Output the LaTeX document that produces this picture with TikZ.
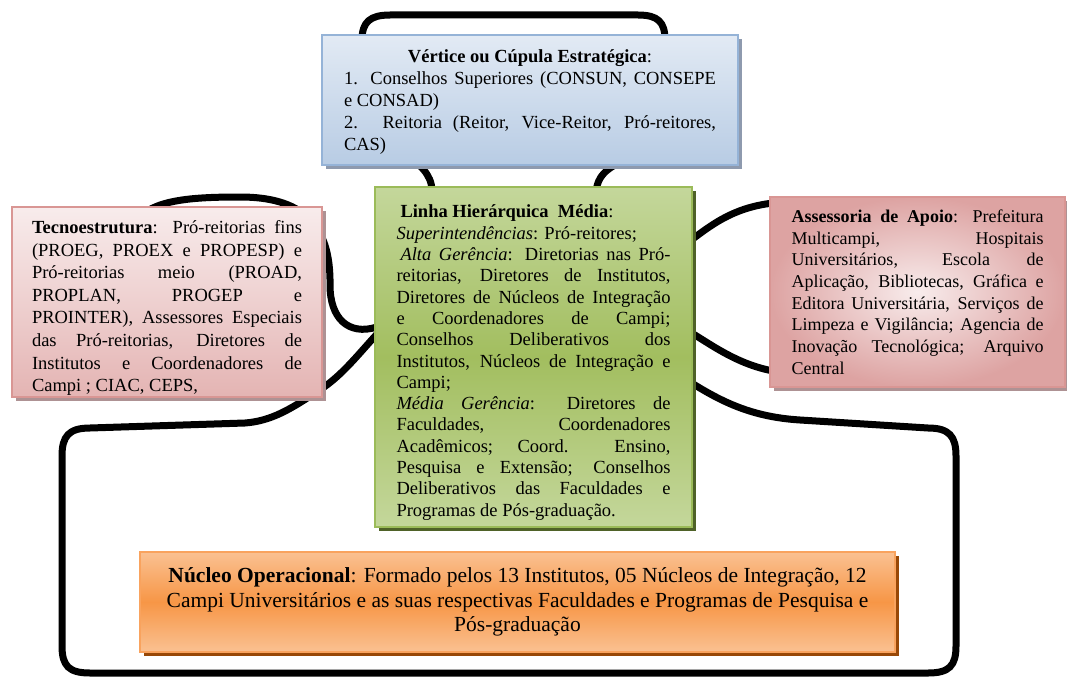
\documentclass[tikz,border=0pt]{standalone}
\usepackage{fontspec}
\setmainfont{Liberation Serif}
\usepackage{tikz}
\usetikzlibrary{calc,shadows,backgrounds}

\definecolor{apexTop}{HTML}{E2EAF4}
\definecolor{apexBot}{HTML}{B8CCE4}
\definecolor{apexLine}{HTML}{95B3D7}
\definecolor{apexShadow}{HTML}{8E9AAE}
\definecolor{pinkTop}{HTML}{F8ECEC}
\definecolor{pinkBot}{HTML}{E4B4B3}
\definecolor{pinkOuter}{HTML}{DDA3A2}
\definecolor{pinkLine}{HTML}{D99694}
\definecolor{pinkShadow}{HTML}{AE9294}
\definecolor{greenLight}{HTML}{C4D79B}
\definecolor{greenMid}{HTML}{A2BE5F}
\definecolor{greenLine}{HTML}{9BBB59}
\definecolor{greenShadow}{HTML}{4F6228}
\definecolor{orangeLight}{HTML}{FAC192}
\definecolor{orangeMid}{HTML}{F79646}
\definecolor{orangeLine}{HTML}{F9A35E}
\definecolor{orangeShadow}{HTML}{984807}

\hyphenpenalty=10000
\exhyphenpenalty=10000
\tolerance=10000
\emergencystretch=10pt

\begin{document}
\begin{tikzpicture}[x=1pt,y=-1pt]
            \useasboundingbox (0,0) rectangle (1067,677);
            \tikzset{BoxStyle/.style={draw,rectangle,line width=2pt,inner ysep=0pt,align=justify,
                font=\fontsize{18.5}{22}\selectfont}};
            \tikzset{LinkStyle/.style={line width=7pt,line join=round}};

            \node[BoxStyle,draw=apexLine,top color=apexTop,bottom color=apexBot,
                drop shadow={fill=apexShadow,opacity=1,shadow xshift=4pt,shadow yshift=-4pt},
                text width=372pt,inner xsep=22pt,minimum height=129pt,
                font=\fontsize{18.5}{22.2}\selectfont] (apex) at (530,100)
                {\rule{0pt}{17pt}\hfill\textbf{Vértice ou Cúpula Estratégica}:\hfill\null\\
                1. Conselhos Superiores (CONSUN, CONSEPE\linebreak e CONSAD)\\
                2. Reitoria (Reitor, Vice-Reitor, Pró-reitores,\linebreak CAS)};

            \node[BoxStyle,draw=pinkLine,top color=pinkTop,bottom color=pinkBot,
                drop shadow={fill=pinkShadow,opacity=1,shadow xshift=4pt,shadow yshift=-4pt},
                text width=270pt,inner xsep=20pt,minimum height=190pt,
                font=\fontsize{18.5}{22.6}\selectfont] (tecno) at (167,302)
                {\rule{0pt}{25pt}\textbf{Tecnoestrutura}: Pró-reitorias fins\linebreak
                (PROEG, PROEX e PROPESP) e\linebreak
                Pró-reitorias meio (PROAD,\linebreak
                PROPLAN, PROGEP e\linebreak
                PROINTER), Assessores Especiais\linebreak
                das Pró-reitorias, Diretores de\linebreak
                Institutos e Coordenadores de\linebreak
                Campi ; CIAC, CEPS,};

            \node[BoxStyle,draw=greenLine,top color=greenLight,bottom color=greenLight,middle color=greenMid,
                drop shadow={fill=greenShadow,opacity=1,shadow xshift=4pt,shadow yshift=-4pt},
                text width=274pt,inner xsep=21.5pt,minimum height=340pt,
                font=\fontsize{18.5}{21.3}\selectfont] (green) at (533.5,357)
                {\rule{0pt}{24pt}\hspace*{4pt}\textbf{Linha Hierárquica\ \ Média}:\\
                \textit{Superintendências}: Pró-reitores;\\
                \hspace*{4pt}\textit{Alta Gerência}: Diretorias nas Pró-\linebreak
                reitorias, Diretores de Institutos,\linebreak
                Diretores de Núcleos de Integração\linebreak
                e Coordenadores de Campi;\linebreak
                Conselhos Deliberativos dos\linebreak
                Institutos, Núcleos de Integração e\linebreak
                Campi;\\
                \textit{Média Gerência}: Diretores de\linebreak
                Faculdades, Coordenadores\linebreak
                Acadêmicos; Coord. Ensino,\linebreak
                Pesquisa e Extensão; Conselhos\linebreak
                Deliberativos das Faculdades e\linebreak
                Programas de Pós-graduação.};

            \node[BoxStyle,draw=pinkLine,inner color=pinkTop,outer color=pinkOuter,
                drop shadow={fill=pinkShadow,opacity=1,shadow xshift=4pt,shadow yshift=-4pt},
                text width=252pt,inner xsep=21.5pt,minimum height=190pt,
                font=\fontsize{18}{21.7}\selectfont] (support) at (917.5,292)
                {\textbf{Assessoria de Apoio}: Prefeitura\linebreak
                Multicampi, Hospitais\linebreak
                Universitários, Escola de\linebreak
                Aplicação, Bibliotecas, Gráfica e\linebreak
                Editora Universitária, Serviços de\linebreak
                Limpeza e Vigilância; Agencia de\linebreak
                Inovação Tecnológica; Arquivo\linebreak
                Central};

            \node[BoxStyle,draw=orangeLine,top color=orangeLight,bottom color=orangeLight,middle color=orangeMid,
                drop shadow={fill=orangeShadow,opacity=1,shadow xshift=4pt,shadow yshift=-4pt},
                text width=715pt,inner xsep=20pt,minimum height=100pt,align=flush center,
                font=\fontsize{21.5}{24.5}\selectfont] (core) at (517.5,602)
                {\textbf{Núcleo Operacional}: Formado pelos 13 Institutos, 05 Núcleos de Integração, 12\\
                Campi Universitários e as suas respectivas Faculdades e Programas de Pesquisa e\\
                Pós-graduação};

            \begin{scope}[on background layer]
            \draw[LinkStyle] ([xshift=58pt,yshift=-6pt]green.north west)
                .. controls (432,172) and (418,166) .. (405,150)
                .. controls (380,120) and (362,80) .. (362,40)
                .. controls (362,22) and (370,15) .. (390,15) -- (638,15)
                .. controls (658,15) and (665,22) .. (665,40)
                .. controls (665,90) and (660,140) .. (635,155)
                .. controls (615,165) and (598,170) .. ([xshift=222pt,yshift=-6pt]green.north west);

            \draw[LinkStyle] ([xshift=3pt,yshift=-141pt]green.north west)
                .. controls (348,336) and (330,318) .. (330,285)
                .. controls (331,222) and (300,197) .. (240,197)
                .. controls (190,197) and (152,200) .. ([xshift=125pt,yshift=-15pt]tecno.north west);

            \draw[LinkStyle] ([xshift=-3pt,yshift=-55pt]green.north east)
                .. controls (715,222) and (740,203) .. ([xshift=20pt,yshift=-6pt]support.north west)
                .. controls (1000,200) and (1000,372) .. ([xshift=20pt,yshift=15pt]support.south west)
                .. controls (745,370) and (715,347) .. ([xshift=-3pt,yshift=-146pt]green.north east);

            \draw[LinkStyle] ([xshift=3pt,yshift=-148pt]green.north west)
                .. controls (355,358) and (340,378) .. (315,393)
                .. controls (292,408) and (272,421) .. (245,423) -- (90,428)
                .. controls (69,428) and (62,436) .. (62,456) -- (62,646)
                .. controls (62,666) and (69,673) .. (90,673) -- (928,673)
                .. controls (949,673) and (956,666) .. (956,646) -- (956,456)
                .. controls (956,436) and (949,428) .. (928,428) -- (800,420)
                .. controls (752,417) and (722,402) .. ([xshift=-3pt,yshift=-196pt]green.north east);
            \end{scope}
          \end{tikzpicture}
\end{document}
